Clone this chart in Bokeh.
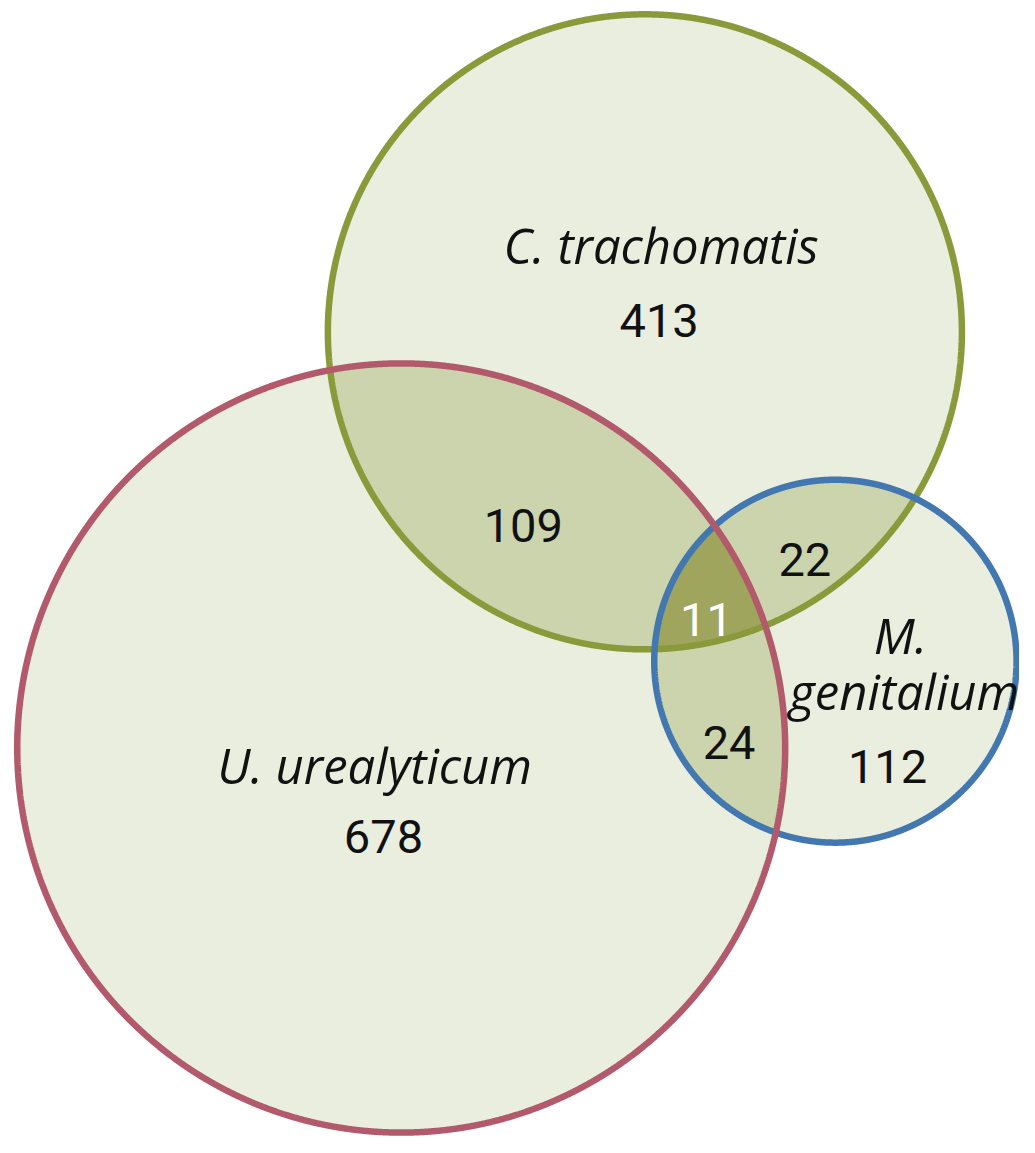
import numpy as np
from bokeh.plotting import figure
from bokeh.models import Range1d
from bokeh.core.properties import value
from bokeh.embed import file_html
from bokeh.resources import INLINE

# ---- data ----
set_names = ["C. trachomatis", "U. urealyticum", "M. genitalium"]
only_counts = [413, 678, 112]          # CT only, UU only, MG only
pair_names = ["CT&UU", "CT&MG", "UU&MG"]
pair_counts = [109, 22, 24]
triple_count = 11

# ---- layout (pixel space of the picture) ----
circle_cx = [654.5, 407.0, 848.0]
circle_cy = [336.0, 758.0, 670.0]
circle_r = [322.0, 390.0, 184.0]
line_colors = ["#8a9a3a", "#b2596c", "#4377b0"]
fill_single = "#e9eedf"
fill_double = "#cbd4ad"
fill_triple = "#9fa55c"

W, H = 1019, 1137
p = figure(width=W, height=H, output_backend="svg", toolbar_location=None,
           x_range=Range1d(0, 1035), y_range=Range1d(1153, 0),
           min_border=0)
p.axis.visible = False
p.grid.visible = False
p.outline_line_color = None
p.background_fill_color = "white"
p.border_fill_color = "white"


def boundary(i, n=3000):
    t = np.linspace(0, 2 * np.pi, n, endpoint=False)
    return circle_cx[i] + circle_r[i] * np.cos(t), circle_cy[i] + circle_r[i] * np.sin(t)


def inside(i, x, y):
    return (x - circle_cx[i]) ** 2 + (y - circle_cy[i]) ** 2 <= circle_r[i] ** 2 + 1e-6


def intersection(ids):
    xs, ys = [], []
    for i in ids:
        bx, by = boundary(i)
        m = np.ones_like(bx, dtype=bool)
        for j in ids:
            if j != i:
                m &= inside(j, bx, by)
        xs.append(bx[m]); ys.append(by[m])
    x = np.concatenate(xs); y = np.concatenate(ys)
    mx, my = x.mean(), y.mean()
    o = np.argsort(np.arctan2(y - my, x - mx))
    return list(x[o]), list(y[o])


# single fills
for i in range(3):
    bx, by = boundary(i)
    p.patch(list(bx), list(by), fill_color=fill_single, line_color=None)

# pair fills
pairs = [(0, 1), (0, 2), (1, 2)]
for a, b in pairs:
    x, y = intersection([a, b])
    p.patch(x, y, fill_color=fill_double, line_color=None)

# triple fill
x, y = intersection([0, 1, 2])
p.patch(x, y, fill_color=fill_triple, line_color=None)

# outlines
for i in [0, 2, 1]:
    bx, by = boundary(i)
    p.patch(list(bx) + [bx[0]], list(by) + [by[0]], fill_color=None,
            line_color=line_colors[i], line_width=6.5)

NAME_FONT = value("Open Sans")
NUM_FONT = value("Roboto")

name_labels = ["C. trachomatis", "U. urealyticum", "M.", "genitalium"]
name_x = [671, 380, 914, 918]
name_y = [248, 775, 643, 700]
p.text(x=name_x, y=name_y, text=name_labels, text_font=NAME_FONT, text_font_size="49px",
       text_font_style="italic", text_align="center", text_baseline="alphabetic",
       text_color="#111111")

num_labels = [str(v) for v in only_counts] + [str(v) for v in pair_counts]
num_x = [669, 389, 901, 531, 817, 740]
num_y = [325, 848, 777, 532, 567, 752]
p.text(x=num_x, y=num_y, text=num_labels, text_font=NUM_FONT, text_font_size="47px",
       text_align="center", text_baseline="alphabetic", text_color="#111111")

p.text(x=[717], y=[628], text=[str(triple_count)], text_font=NUM_FONT, text_font_size="47px",
       text_align="center", text_baseline="alphabetic", text_color="white")

open("out.html", "w").write(file_html(p, INLINE))
